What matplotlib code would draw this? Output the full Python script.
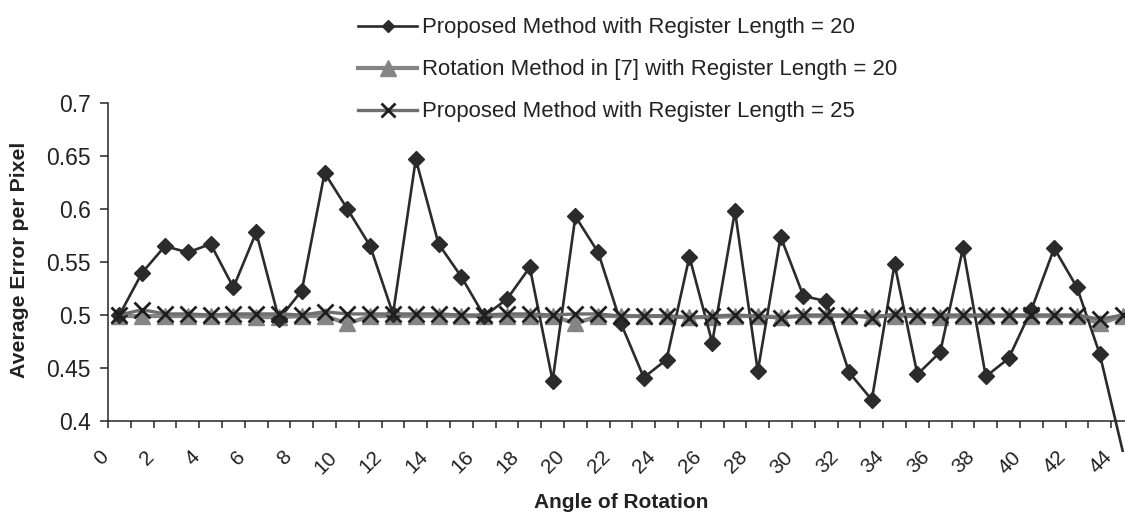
import matplotlib
matplotlib.use("Agg")
import matplotlib.pyplot as plt
import matplotlib.transforms as mtransforms
from matplotlib.lines import Line2D
from matplotlib.ticker import FixedLocator

plt.rcParams["font.family"] = ["Liberation Sans", "DejaVu Sans"]

# Rotation angles (degrees) and average error per pixel for each method
angles = list(range(45))
proposed_20 = [0.500, 0.540, 0.565, 0.559, 0.567, 0.526, 0.578, 0.496, 0.523, 0.634,
               0.600, 0.565, 0.501, 0.647, 0.567, 0.536, 0.499, 0.515, 0.545, 0.438,
               0.593, 0.559, 0.492, 0.441, 0.458, 0.555, 0.474, 0.598, 0.447, 0.574,
               0.518, 0.513, 0.446, 0.420, 0.548, 0.444, 0.465, 0.563, 0.442, 0.459,
               0.505, 0.563, 0.526, 0.463, 0.372]
rotation_20 = [0.499, 0.499, 0.499, 0.499, 0.499, 0.499, 0.498, 0.498, 0.499, 0.499,
               0.492, 0.499, 0.499, 0.499, 0.499, 0.499, 0.499, 0.499, 0.499, 0.499,
               0.492, 0.499, 0.499, 0.499, 0.499, 0.498, 0.498, 0.499, 0.499, 0.498,
               0.499, 0.499, 0.499, 0.499, 0.499, 0.499, 0.498, 0.499, 0.499, 0.499,
               0.499, 0.499, 0.499, 0.492, 0.499]
proposed_25 = [0.500, 0.505, 0.501, 0.501, 0.500, 0.501, 0.501, 0.501, 0.500, 0.503,
               0.501, 0.501, 0.501, 0.501, 0.501, 0.500, 0.500, 0.501, 0.501, 0.500,
               0.501, 0.501, 0.499, 0.499, 0.499, 0.497, 0.499, 0.500, 0.499, 0.497,
               0.500, 0.500, 0.500, 0.497, 0.501, 0.500, 0.500, 0.500, 0.500, 0.500,
               0.500, 0.500, 0.500, 0.496, 0.500]

labels = ["Proposed Method with Register Length = 20",
          "Rotation Method in [7] with Register Length = 20",
          "Proposed Method with Register Length = 25"]
y_ticks = [0.4, 0.45, 0.5, 0.55, 0.6, 0.65, 0.7]
y_tick_labels = ["0.4", "0.45", "0.5", "0.55", "0.6", "0.65", "0.7"]
x_tick_values = list(range(0, 45, 2))

W, H, DPI = 1125, 513, 100
fig = plt.figure(figsize=(W / DPI, H / DPI), dpi=DPI)
fig.patch.set_facecolor("white")

c_dark, c_light, c_mid, c_x = "#2b2b2b", "#858585", "#6e6e6e", "#1e1e1e"

# plot area (category axis runs slightly past the right edge of the canvas)
ax = fig.add_axes([108 / W, 92 / H, 1026 / W, 318 / H])
ax.set_xlim(-0.5, len(angles) - 0.5)
ax.set_ylim(y_ticks[0], y_ticks[-1])

y_min = y_ticks[0]
ax.plot(angles, proposed_20, color=c_dark, lw=1.9, marker="D", ms=8.5,
        mfc=c_dark, mec=c_dark, mew=1, zorder=3, clip_on=False,
        markevery=[i for i, v in enumerate(proposed_20) if v >= y_min])
ax.plot(angles, rotation_20, color=c_light, lw=3.0, marker="^", ms=11.5,
        mfc=c_light, mec=c_light, zorder=2)
ax.plot(angles, proposed_25, color=c_mid, lw=2.4, marker="x", ms=11,
        mec=c_x, mew=2.0, zorder=4)

for side in ("top", "right"):
    ax.spines[side].set_visible(False)
for side in ("left", "bottom"):
    ax.spines[side].set_color("#262626")
    ax.spines[side].set_linewidth(1.1)

ax.set_yticks(y_ticks)
ax.set_yticklabels(y_tick_labels)
ax.tick_params(axis="y", direction="out", length=5.8, width=1.1, color="#262626",
               labelsize=16.5, labelcolor="#222222", pad=6.5)

# labels sit on category centres, tick marks on category boundaries
ax.set_xticks(x_tick_values)
ax.set_xticklabels([str(v) for v in x_tick_values], rotation=45, ha="right", va="top")
ax.xaxis.set_minor_locator(FixedLocator([i - 0.5 for i in range(len(angles) + 1)]))
ax.tick_params(axis="x", which="major", length=0, labelsize=15, labelcolor="#222222", pad=19)
ax.tick_params(axis="x", which="minor", direction="out", length=5.2, width=1.1, color="#262626")
shift = mtransforms.ScaledTranslation(-7 / DPI, 0, fig.dpi_scale_trans)
for lab in ax.get_xticklabels():
    lab.set_transform(lab.get_transform() + shift)

fig.text(621 / W, 1 - 503 / H, "Angle of Rotation", ha="center", va="center",
         fontsize=15, fontweight="bold", color="#222222")
fig.text(20 / W, 1 - 260 / H, "Average Error per Pixel", ha="center", va="center",
         rotation=90, fontsize=15.3, fontweight="bold", color="#222222")

handles = [
    Line2D([], [], color=c_dark, lw=1.9, marker="D", ms=6.5, mfc=c_dark, mec=c_dark),
    Line2D([], [], color=c_light, lw=3.0, marker="^", ms=11.5, mfc=c_light, mec=c_light),
    Line2D([], [], color=c_mid, lw=2.4, marker="x", ms=10, mec=c_x, mew=2.0),
]
fig.legend(handles, labels, loc="upper left", bbox_to_anchor=(358 / W, 1 - 17.5 / H),
           frameon=False, fontsize=15.9, handlelength=2.68, handletextpad=0.23,
           labelspacing=0.95, borderpad=0, borderaxespad=0, labelcolor="#222222")

fig.savefig("out.png", dpi=DPI, facecolor="white")
